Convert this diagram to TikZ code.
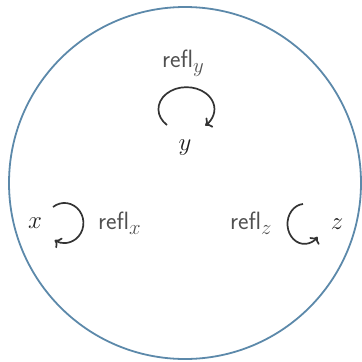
\documentclass[tikz,border=0pt]{standalone}
\usepackage{fontspec}
\usetikzlibrary{arrows.meta}
\definecolor{ringblue}{HTML}{5C89AA}
\definecolor{loopgray}{HTML}{333333}
\definecolor{labelgray}{HTML}{505050}
\newcommand{\reflsub}[1]{\raisebox{-5pt}{\fontsize{21}{24}\selectfont$#1$}}

\begin{document}
\begin{tikzpicture}[x=1pt,y=-1pt,
 obj/.style={font=\fontsize{27}{32}\selectfont,text=black!88,inner sep=1pt,anchor=base},
 lbl/.style={font=\fontsize{25}{30}\selectfont\sffamily,text=labelgray,inner sep=1pt,anchor=base west},
 refl/.style={draw=loopgray,line width=1.7pt,-{To[length=6pt,width=12pt]}}
]
\useasboundingbox (0,0) rectangle (362,362);
\draw[ringblue,line width=1.8pt] (185,183) circle[radius=176];
% objects
\node[obj] (y) at (185,150) {$y$};
\node[obj] (x) at (35,228) {$x$};
\node[obj] (z) at (337,229) {$z$};
% labels
\node[lbl] (refly) at (161,67) {refl\reflsub{y}};
\node[lbl] (reflx) at (97,229) {refl\reflsub{x}};
\node[lbl] (reflz) at (229,229) {refl\reflsub{z}};
% self loops
\draw[refl] ([shift={(-18,-25)}]y.base) arc[start angle=134,end angle=408,x radius=28,y radius=22];
\draw[refl] ([shift={(18,-21)}]x.base) arc[start angle=-127,end angle=121,x radius=19,y radius=20];
\draw[refl] ([shift={(-34,-25)}]z.base) arc[start angle=265,end angle=40,x radius=17,y radius=20];
\end{tikzpicture}
\end{document}
